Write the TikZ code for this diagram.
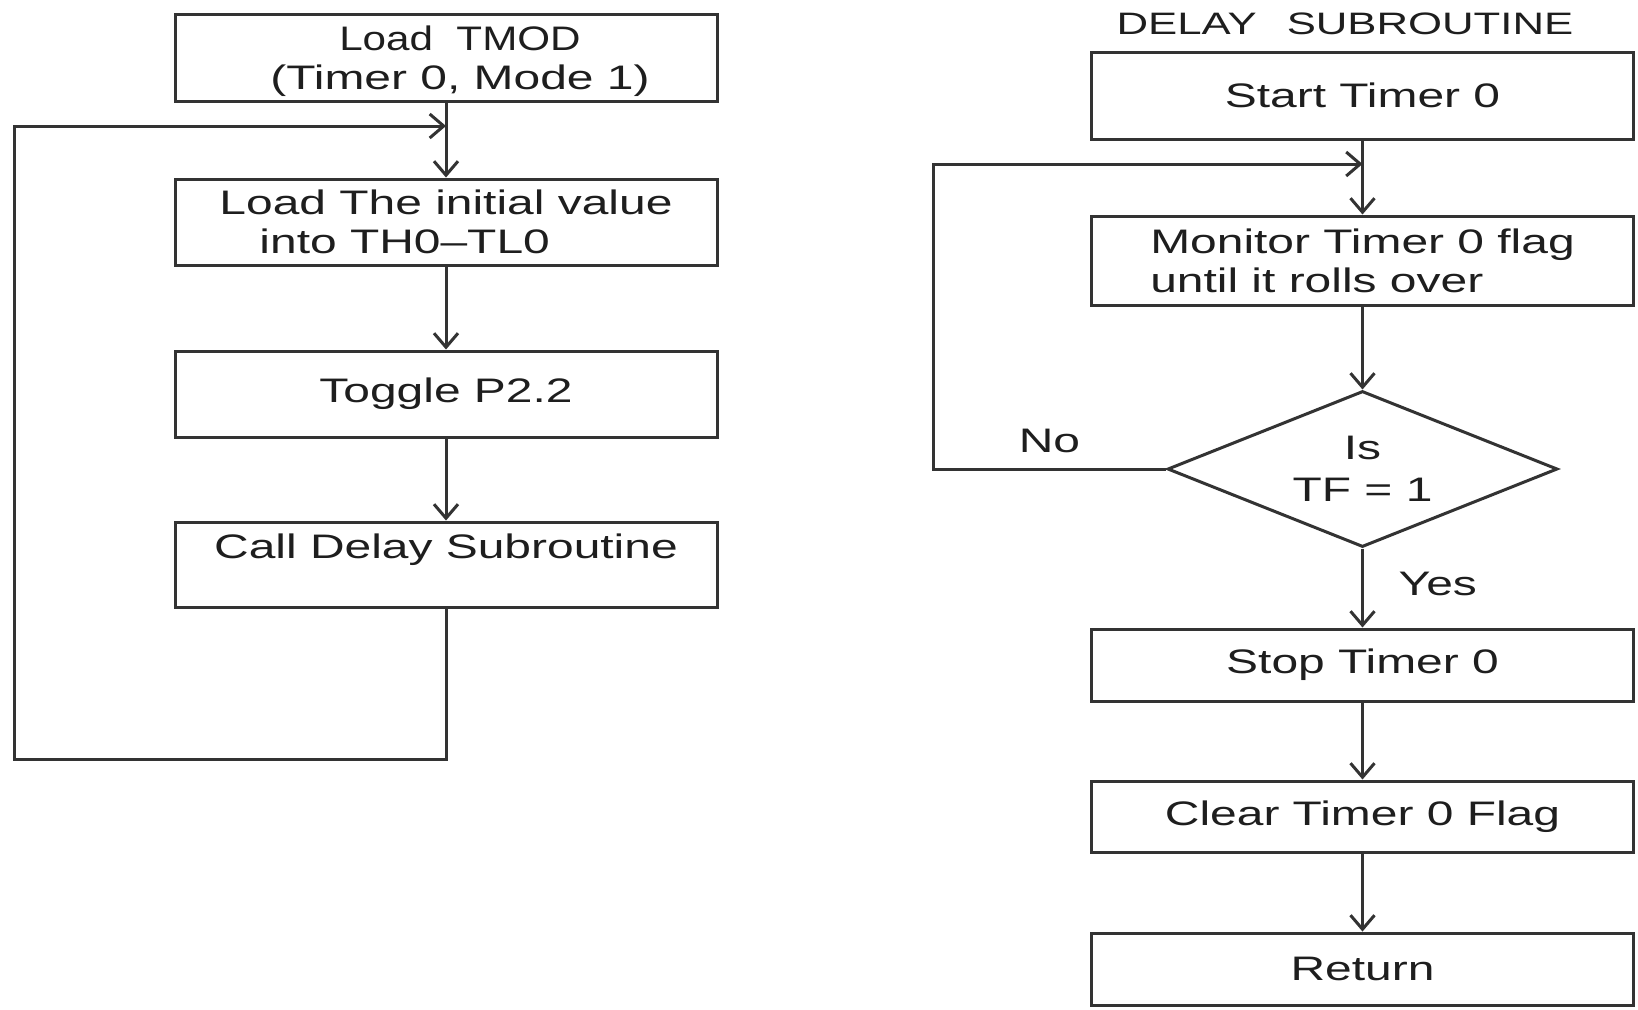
\documentclass[tikz,border=0pt]{standalone}
\usepackage{fontspec}
\setmainfont{Liberation Sans}[FakeStretch=1.41]
\usepackage{tikz}
\usetikzlibrary{shapes.geometric}
\usetikzlibrary{arrows.meta}

\definecolor{inkline}{HTML}{333333}
\definecolor{inktext}{HTML}{1E1E1E}

\tikzset{
  stepbox/.style={draw=inkline, line width=1.5pt, rectangle, minimum width=271pt, inner sep=0pt, text=inktext, font=\fontsize{17}{19.5}\selectfont},
  decide/.style={draw=inkline, line width=1.5pt, diamond, aspect=2.5, minimum width=195pt, minimum height=78pt, inner sep=0pt, align=center, text=inktext, font=\fontsize{17}{21}\selectfont},
  flow/.style={draw=inkline, line width=1.5pt, -{Straight Barb[length=7pt,width=12pt]}},
  tag/.style={text=inktext, font=\fontsize{17}{20}\selectfont}
}

\begin{document}
\begin{tikzpicture}[x=0.5pt, y=-0.5pt]
	\fill[white] (0,0) rectangle (1638,1009);
	\useasboundingbox (0,0) rectangle (1638,1009);

	\node[stepbox, minimum height=43.5pt, align=center, text height=34pt, text depth=2pt] (tmod) at (446,57.5) {\hspace*{14pt}\scalebox{0.88}[1]{Load\ \ TMOD}\\\hspace*{14pt}(Timer 0, Mode 1)};
	\node[stepbox, minimum height=43pt, align=left] (init) at (446,222) {Load The initial value\\\hspace*{20pt}into TH0–TL0};
	\node[stepbox, minimum height=43pt] (toggle) at (446,394) {Toggle P2.2};
	\node[stepbox, minimum height=42.5pt, text height=12pt, text depth=18.5pt] (calldelay) at (446,564.5) {Call Delay Subroutine};
	\coordinate (mergeA) at (446,126);
	\coordinate (loopA) at (14,759);

	\node[tag, font=\fontsize{15.5}{18}\selectfont] (title) at (1345,24) {DELAY\hspace{15pt}SUBROUTINE};
	\node[stepbox, minimum height=43.5pt] (start) at (1362.5,95.5) {Start Timer 0};
	\node[stepbox, minimum height=44.5pt, align=left] (watch) at (1362.5,260.5) {Monitor Timer 0 flag\\until it rolls over};
	\node[decide] (check) at (1362.5,469) {Is\\TF = 1};
	\node[stepbox, minimum height=36pt] (stop) at (1362.5,665) {Stop Timer 0};
	\node[stepbox, minimum height=35.5pt] (clear) at (1362.5,816.5) {Clear Timer 0 Flag};
	\node[stepbox, minimum height=36pt] (ret) at (1362.5,969) {Return};
	\coordinate (mergeB) at (1362.5,164);
	\coordinate (loopB) at (933,469);

\draw[flow] (tmod) -- (init);
\draw[flow] (init) -- (toggle);
\draw[flow] (toggle) -- (calldelay);
\draw[flow] (calldelay.south) |- (loopA) |- (mergeA);

\draw[flow] (start) -- (watch);
\draw[flow] (watch) -- (check);
\draw[flow] (check.west) -- node[tag, above, yshift=4pt] (nolbl) {No} (loopB) |- (mergeB);
\draw[flow] (check.south) -- node[tag, right, xshift=14pt, yshift=2pt] (yeslbl) {Yes} (stop.north);
\draw[flow] (stop) -- (clear);
\draw[flow] (clear) -- (ret);
\end{tikzpicture}
\end{document}
